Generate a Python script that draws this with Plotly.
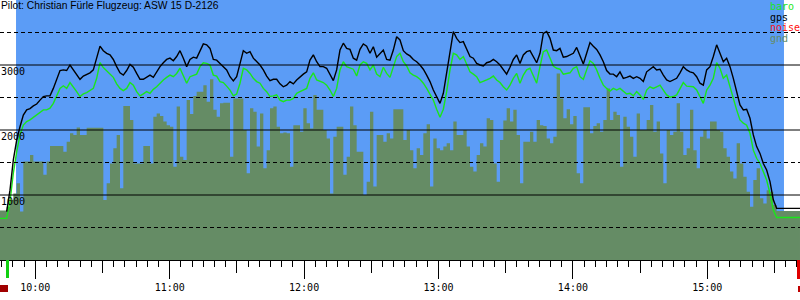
import pandas as pd
import plotly.graph_objects as go

# ---------------- data ----------------
title_text = "Pilot: Christian Fürle Flugzeug: ASW 15 D-2126"
start_time = "2023-06-01 09:44:14"
view_end = "2023-06-01 15:41:23"
sample_interval = "89286ms"
takeoff_time = "2023-06-01 09:51:23"
landing_time = "2023-06-01 15:34:14"
first_hour = "2023-06-01 10:00:00"

baro = [
    640, 640, 640, 900, 1335, 1665, 1925, 2075, 2130, 2155, 2195, 2230, 2265, 2310, 2310, 2335, 2410, 2515, 2640, 2680,
    2640, 2730, 2665, 2590, 2515, 2555, 2575, 2605, 2640, 2795, 3035, 2960, 2915, 2870, 2810, 2710, 2640, 2605, 2640, 2730,
    2690, 2590, 2525, 2555, 2590, 2565, 2625, 2665,
    2720, 2770, 2810, 2845, 2820, 2870, 2950, 2845, 2720, 2820, 2845, 2860, 2975, 3035, 3025, 3000, 2845, 2830, 2745, 2730,
    2675, 2615, 2525, 2555, 2720, 2950, 2925, 2870, 2795, 2745, 2720, 2640, 2590, 2515, 2525, 2540, 2460, 2435, 2460, 2460,
    2485, 2565, 2590, 2615, 2640, 2795, 2880, 2770,
    2745, 2730, 2690, 2615, 2515, 2640, 2925, 3050, 2975, 2950, 2935, 2830, 3000, 3050, 3025, 2925, 3000, 2860, 2820, 2965,
    2870, 2810, 2975, 3130, 3180, 3050, 2985, 2880, 2845, 2820, 2780, 2720, 2640, 2540, 2460, 2320, 2195, 2320, 2590, 2925,
    3180, 3155, 3085, 3130, 3000, 2895, 2860, 2820,
    2730, 2745, 2770, 2795, 2830, 2770, 2730, 2665, 2615, 2690, 2795, 2870, 2720, 2845, 2925, 2950, 2820, 2720, 2975, 3205,
    3230, 3105, 2985, 2950, 2935, 2860, 2870, 2880, 2950, 2975, 2820, 2780, 2925, 3065, 3025, 2925, 2795, 2690, 2640, 2600,
    2640, 2615, 2640, 2590, 2555, 2565, 2525, 2590,
    2540, 2470, 2615, 2665, 2640, 2665, 2690, 2615, 2540, 2505, 2515, 2540, 2640, 2730, 2675, 2665, 2665, 2615, 2515, 2410,
    2615, 2690, 2795, 3035, 2950, 2795, 2845, 2665, 2460, 2310, 2155, 2105, 2075, 1950, 1690, 1565, 1485, 1360, 1230, 1025,
    770, 655, 655, 655, 655, 655, 655, 655, 655,
]

gps = [
    None, None, 745, 1075, 1540, 1845, 2050, 2230, 2310, 2330, 2370, 2400, 2460, 2515, 2525, 2525, 2640, 2770, 2915, 2925,
    2915, 3000, 2925, 2845, 2780, 2830, 2855, 2880, 2925, 3130, 3290, 3220, 3180, 3155, 3085, 2975, 2880, 2845, 2915, 3010,
    2965, 2870, 2780, 2780, 2810, 2845, 2810, 2895,
    2975, 3035, 3085, 3105, 3065, 3130, 3220, 3105, 2975, 3085, 3120, 3105, 3230, 3325, 3310, 3255, 3085, 3075, 3025, 2975,
    2925, 2820, 2755, 2820, 3025, 3220, 3180, 3205, 3105, 3050, 3000, 2925, 2830, 2760, 2780, 2780, 2710, 2665, 2690, 2745,
    2710, 2770, 2820, 2860, 2895, 3075, 3155, 3050,
    2975, 2975, 2950, 2845, 2760, 2925, 3230, 3335, 3255, 3240, 3105, 3075, 3240, 3325, 3290, 3180, 3280, 3120, 3180, 3230,
    3085, 3075, 3230, 3435, 3385, 3220, 3170, 3140, 3085, 3050, 3000, 2935, 2845, 2745, 2615, 2515, 2410, 2565, 2870, 3230,
    3515, 3410, 3345, 3360, 3230, 3130, 3105, 3025,
    3000, 2985, 3035, 3050, 3085, 3050, 3000, 2925, 2860, 2965, 3085, 3155, 3025, 3155, 3205, 3220, 3130, 3035, 3180, 3485,
    3515, 3410, 3230, 3220, 3255, 3120, 3130, 3155, 3180, 3270, 3130, 3015, 3180, 3345, 3290, 3240, 3155, 3050, 2915, 2860,
    2860, 2820, 2895, 2795, 2810, 2830, 2795, 2820,
    2795, 2745, 2895, 2935, 2975, 2925, 2935, 2845, 2770, 2745, 2770, 2795, 2880, 2975, 2925, 2895, 2880, 2820, 2720, 2690,
    2925, 2975, 3130, 3310, 3180, 3050, 3105, 2975, 2795, 2590, 2385, 2310, 2320, 2180, 1925, 1745, 1640, 1485, 1385, 1205,
    925, 795, 795, 795, 795, 795, 795, 795, 795,
]

gnd = [
    760, 760, 820, 925, 1025, 1180, 745, 1515, 1515, 1615, 1515, 1515, 1515, 1310, 1515, 1755, 1755, 1755, 1755, 1665,
    1820, 1950, 1925, 2040, 1925, 1925, 2035, 2035, 2035, 2035, 2035, 925, 1180, 1485, 1720, 1925, 1105, 2370, 2370, 2155,
    1485, 1485, 1485, 1755, 1755, 1485, 2205, 2255,
    2215, 2130, 2075, 2050, 1435, 2360, 1590, 1540, 2460, 2245, 2525, 2590, 2590, 2690, 2435, 2780, 2310, 2205, 2410, 2420,
    2420, 1590, 2485, 2485, 2485, 2000, 1335, 2335, 2280, 1745, 2255, 1410, 1690, 2335, 2360, 2050, 1950, 1960, 1950, 1435,
    2075, 2075, 1975, 2335, 2105, 2025, 2540, 2310,
    2310, 2000, 1870, 1025, 1895, 2050, 2050, 1310, 1590, 2360, 2075, 1665, 1665, 1000, 1205, 2280, 1130, 1925, 1925, 1820,
    1950, 1870, 2320, 2320, 2320, 1845, 2000, 1690, 1410, 1720, 1615, 1950, 2090, 1130, 1870, 1720, 1690, 1745, 1795, 1690,
    2130, 1925, 1925, 2000, 1745, 1435, 1360, 1615,
    1795, 1745, 2180, 2155, 1485, 1205, 1845, 2145, 2335, 2130, 2310, 1925, 1180, 1820, 1820, 1975, 1820, 2155, 2075, 2060,
    1870, 1795, 1895, 2870, 2485, 2180, 2320, 2090, 2215, 1335, 1180, 2350, 2350, 1950, 2060, 2105, 1975, 2155, 2640, 2155,
    2280, 2230, 1435, 2205, 2050, 1895, 1590, 2255,
    2000, 2000, 2155, 2385, 1975, 2130, 1640, 1180, 2000, 1925, 1975, 2410, 1975, 1615, 1720, 2310, 1690, 1410, 1895, 2000,
    1870, 2130, 2130, 2000, 1975, 1720, 1590, 1360, 1255, 1795, 1485, 1280, 1050, 820, 1230, 1410, 950, 870, 1075, 1050,
    845, 755, 755, 755, 755, 755, 755, 755, 755,
]

solid_levels = [1000, 2000, 3000]
dashed_levels = [500, 1500, 2500, 3500]
legend_names = ["baro", "gps", "noise", "gnd"]

# ---------------- styles ----------------
BLUE = "#5b9cf6"
GND = "#658c65"
BARO = "#1ae61a"
GPS = "#000000"
NOISE = "#ff1010"
legend_colors = [BARO, GPS, NOISE, GND]
MONO = "DejaVu Sans Mono"

times = pd.date_range(start_time, periods=len(baro), freq=sample_interval)

fig = go.Figure()
fig.add_trace(go.Scatter(x=times, y=gnd, mode="lines", line=dict(width=0, shape="hv"),
                         fill="tozeroy", fillcolor=GND, hoverinfo="skip", name="gnd"))
fig.add_trace(go.Scatter(x=times, y=baro, mode="lines", line=dict(color=BARO, width=1.4), name="baro"))
fig.add_trace(go.Scatter(x=times, y=gps, mode="lines", line=dict(color=GPS, width=1.4), name="gps"))
# helper trace so that the half-hour tick axis is drawn
fig.add_trace(go.Scatter(x=[times[0], times[-1]], y=[None, None], xaxis="x2", mode="lines",
                         hoverinfo="skip", showlegend=False))

shapes = [dict(type="rect", xref="x", yref="paper", x0=takeoff_time, x1=landing_time, y0=0, y1=1,
               fillcolor=BLUE, line=dict(width=0), layer="below")]
for lv in solid_levels:
    shapes.append(dict(type="line", xref="paper", yref="y", x0=0, x1=1, y0=lv, y1=lv,
                       line=dict(color="black", width=1), layer="above"))
for lv in dashed_levels:
    shapes.append(dict(type="line", xref="paper", yref="y", x0=0, x1=1, y0=lv, y1=lv,
                       line=dict(color="black", width=1, dash="4px,3px"), layer="above"))
# time-slider markers under the axis
shapes += [
    dict(type="line", xref="paper", yref="paper", x0=7.5 / 800, x1=7.5 / 800, y0=0, y1=-18 / 260,
         line=dict(color="#10d010", width=3)),
    dict(type="rect", xref="paper", yref="paper", x0=0, x1=8 / 800, y0=-25 / 260, y1=-32 / 260,
         fillcolor="#a00000", line=dict(width=0)),
    dict(type="line", xref="paper", yref="paper", x0=798.5 / 800, x1=798.5 / 800, y0=0, y1=-19 / 260,
         line=dict(color="#e00000", width=3)),
    dict(type="rect", xref="paper", yref="paper", x0=798 / 800, x1=1, y0=-26 / 260, y1=-32 / 260,
         fillcolor="#c00000", line=dict(width=0)),
]

annotations = [dict(text=title_text, xref="paper", yref="paper", x=0, y=1, xanchor="left", yanchor="top",
                    showarrow=False, borderpad=0, yshift=1,
                    font=dict(family="Liberation Sans", size=10.3, color="black"))]
for lv in solid_levels:
    annotations.append(dict(text=str(lv), xref="paper", yref="y", x=0, y=lv, xanchor="left", yanchor="top",
                            showarrow=False, borderpad=0, yshift=0,
                            font=dict(family=MONO, size=10, color="black")))
for i, (name, col) in enumerate(zip(legend_names, legend_colors)):
    annotations.append(dict(text=name, xref="paper", yref="paper", x=769 / 800, y=1, xanchor="left",
                            yanchor="top", showarrow=False, borderpad=0, yshift=-i * 10.5,
                            font=dict(family=MONO, size=10, color=col)))

fig.update_layout(
    width=800, height=300,
    margin=dict(l=0, r=0, t=0, b=40),
    plot_bgcolor="white", paper_bgcolor="white",
    showlegend=False,
    xaxis=dict(type="date", range=[start_time, view_end], tickformat="%H:%M",
               tick0=first_hour, dtick=3600000, ticks="outside", ticklen=18, tickwidth=1,
               tickcolor="black", showgrid=False, zeroline=False, showline=True,
               linecolor="black", linewidth=1,
               tickfont=dict(family=MONO, size=10, color="black"),
               minor=dict(tick0=first_hour, dtick=300000, ticks="outside", ticklen=6,
                          tickcolor="black", tickwidth=1, showgrid=False)),
    xaxis2=dict(type="date", range=[start_time, view_end], overlaying="x", anchor="y", side="bottom",
                tick0=first_hour, dtick=1800000, ticks="outside", ticklen=12, tickwidth=1,
                tickcolor="black", showticklabels=False, showgrid=False, zeroline=False, showline=False),
    yaxis=dict(range=[0, 4000], showgrid=False, showticklabels=False, zeroline=False, ticks=""),
    shapes=shapes,
    annotations=annotations,
)

fig.write_html("out.html")
